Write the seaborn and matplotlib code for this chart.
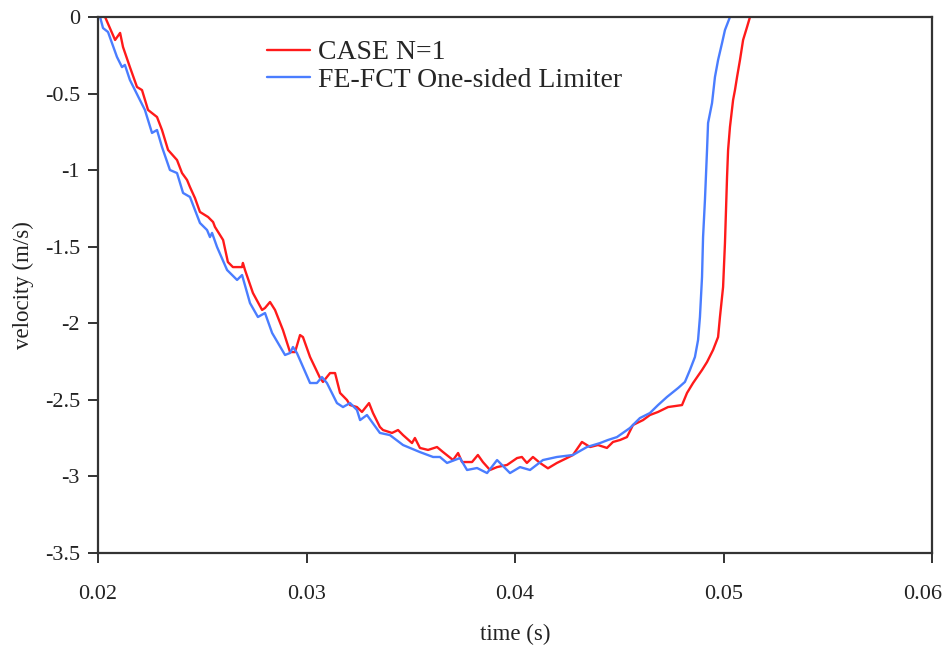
import numpy as np
import pandas as pd
import matplotlib
matplotlib.use("Agg")
import matplotlib.pyplot as plt
import matplotlib.transforms as mtransforms
import seaborn as sns

# ---- data (time in s, velocity in m/s) ----
case_t = [0.02034, 0.02082, 0.02106, 0.02120, 0.02153, 0.02187, 0.02211, 0.02240, 0.02283, 0.02307,
          0.02336, 0.02379, 0.02403, 0.02427, 0.02441, 0.02465, 0.02489, 0.02528, 0.02552, 0.02561,
          0.02600, 0.02623, 0.02647, 0.02691, 0.02695, 0.02705, 0.02743, 0.02787, 0.02801, 0.02825,
          0.02849, 0.02887, 0.02921, 0.02945, 0.02969, 0.02983, 0.03017, 0.03065, 0.03079, 0.03113,
          0.03137, 0.03161, 0.03194, 0.03209, 0.03242, 0.03266, 0.03300, 0.03319, 0.03352, 0.03367,
          0.03410, 0.03439, 0.03463, 0.03506, 0.03520, 0.03544, 0.03583, 0.03626, 0.03655, 0.03703,
          0.03727, 0.03746, 0.03794, 0.03822, 0.03846, 0.03880, 0.03914, 0.03962, 0.04010, 0.04033,
          0.04057, 0.04086, 0.04120, 0.04158, 0.04201, 0.04249, 0.04278, 0.04321, 0.04360, 0.04398,
          0.04441, 0.04470, 0.04504, 0.04537, 0.04566, 0.04614, 0.04647, 0.04686, 0.04734, 0.04801,
          0.04825, 0.04854, 0.04897, 0.04921, 0.04950, 0.04974, 0.04983, 0.04998, 0.05007, 0.05017,
          0.05022, 0.05031, 0.05046, 0.05055, 0.05065, 0.05079, 0.05094, 0.05113, 0.05127]
case_v = [0.0, -0.150, -0.104, -0.196, -0.327, -0.457, -0.477, -0.607, -0.653, -0.738,
          -0.868, -0.934, -1.019, -1.064, -1.110, -1.182, -1.273, -1.306, -1.339, -1.371,
          -1.456, -1.600, -1.633, -1.633, -1.606, -1.652, -1.802, -1.913, -1.900, -1.861,
          -1.913, -2.044, -2.188, -2.188, -2.077, -2.090, -2.220, -2.357, -2.383, -2.325,
          -2.325, -2.455, -2.501, -2.534, -2.547, -2.579, -2.521, -2.586, -2.677, -2.697,
          -2.716, -2.697, -2.730, -2.782, -2.749, -2.814, -2.827, -2.808, -2.841, -2.893,
          -2.847, -2.906, -2.906, -2.860, -2.906, -2.958, -2.939, -2.925, -2.880, -2.873,
          -2.912, -2.873, -2.912, -2.947, -2.912, -2.880, -2.860, -2.775, -2.808, -2.795,
          -2.814, -2.775, -2.762, -2.743, -2.664, -2.632, -2.599, -2.579, -2.547, -2.534,
          -2.455, -2.390, -2.305, -2.253, -2.174, -2.090, -1.959, -1.763, -1.476, -1.045,
          -0.869, -0.718, -0.542, -0.477, -0.392, -0.281, -0.150, -0.065, 0.0]

fct_t = [0.02010, 0.02024, 0.02048, 0.02091, 0.02115, 0.02129, 0.02153, 0.02201, 0.02225, 0.02259,
         0.02283, 0.02307, 0.02345, 0.02379, 0.02408, 0.02441, 0.02489, 0.02523, 0.02537, 0.02547,
         0.02571, 0.02619, 0.02667, 0.02691, 0.02729, 0.02767, 0.02801, 0.02835, 0.02897, 0.02921,
         0.02935, 0.02954, 0.03017, 0.03050, 0.03074, 0.03098, 0.03146, 0.03175, 0.03209, 0.03242,
         0.03257, 0.03290, 0.03352, 0.03400, 0.03463, 0.03544, 0.03607, 0.03640, 0.03674, 0.03736,
         0.03770, 0.03818, 0.03866, 0.03914, 0.03976, 0.04024, 0.04072, 0.04134, 0.04201, 0.04278,
         0.04345, 0.04408, 0.04446, 0.04489, 0.04551, 0.04599, 0.04647, 0.04686, 0.04729, 0.04782,
         0.04815, 0.04839, 0.04863, 0.04878, 0.04887, 0.04897, 0.04902, 0.04911, 0.04921, 0.04926,
         0.04945, 0.04959, 0.04974, 0.04993, 0.05007, 0.05031]
fct_v = [0.0, -0.072, -0.098, -0.261, -0.327, -0.313, -0.411, -0.542, -0.607, -0.757,
         -0.738, -0.849, -0.999, -1.019, -1.149, -1.175, -1.345, -1.391, -1.437, -1.410,
         -1.502, -1.652, -1.717, -1.685, -1.868, -1.959, -1.933, -2.063, -2.207, -2.194,
         -2.155, -2.194, -2.390, -2.390, -2.351, -2.390, -2.521, -2.547, -2.521, -2.566,
         -2.632, -2.599, -2.716, -2.730, -2.795, -2.841, -2.873, -2.873, -2.912, -2.880,
         -2.958, -2.945, -2.978, -2.893, -2.978, -2.939, -2.958, -2.893, -2.873, -2.860,
         -2.808, -2.782, -2.762, -2.743, -2.684, -2.619, -2.586, -2.534, -2.481, -2.423,
         -2.383, -2.305, -2.220, -2.109, -1.959, -1.698, -1.437, -1.195, -0.869, -0.692,
         -0.562, -0.392, -0.281, -0.170, -0.085, 0.0]

series_names = ["CASE N=1", "FE-FCT One-sided Limiter"]
x_ticks = [0.02, 0.03, 0.04, 0.05, 0.06]
y_ticks = [0, -0.5, -1, -1.5, -2, -2.5, -3, -3.5]

df = pd.concat([
    pd.DataFrame({"t": case_t, "v": case_v, "series": series_names[0]}),
    pd.DataFrame({"t": fct_t, "v": fct_v, "series": series_names[1]}),
], ignore_index=True)

sns.set_theme(style="ticks")
plt.rcParams["font.family"] = ["Liberation Serif", "DejaVu Serif"]

fig = plt.figure(figsize=(9.43, 6.5), dpi=100)
ax = fig.add_axes([98 / 943, (650 - 553) / 650, (932 - 98) / 943, (553 - 17) / 650])

sns.lineplot(data=df, x="t", y="v", hue="series", sort=False, estimator=None,
             palette={series_names[0]: "#ff1a1a", series_names[1]: "#4a7dff"},
             linewidth=1.7, ax=ax)

ax.set_xlim(0.02, 0.06)
ax.set_ylim(-3.5, 0)
ax.set_xticks(x_ticks)
ax.set_xticklabels([f"{v:g}" for v in x_ticks])
ax.set_yticks(y_ticks)
ax.set_yticklabels([f"{v:g}" for v in y_ticks])
ax.tick_params(axis="both", direction="out", length=7, width=1.3, colors="#222222",
               labelcolor="#222222")
ax.tick_params(axis="x", pad=16, labelsize=16)
ax.tick_params(axis="y", pad=6, labelsize=16)
# keep last x label inside the figure, as in the reference
last = ax.get_xticklabels()[-1]
last.set_transform(last.get_transform() + mtransforms.ScaledTranslation(-9 / 100, 0, fig.dpi_scale_trans))

for s in ax.spines.values():
    s.set_visible(True)
    s.set_linewidth(1.6)
    s.set_color("#333333")

ax.set_xlabel("time (s)", fontsize=16.5, labelpad=14, color="#222222")
ax.set_ylabel("velocity (m/s)", fontsize=16.5, labelpad=8, color="#222222")

leg = ax.legend(loc="upper left", bbox_to_anchor=(0.189, 0.978), frameon=False,
                fontsize=20, handlelength=1.55, handletextpad=0.3, labelspacing=0.07,
                borderaxespad=0.0)
for line in leg.get_lines():
    line.set_linewidth(1.7)

fig.savefig("out.png", dpi=100, facecolor="white")
